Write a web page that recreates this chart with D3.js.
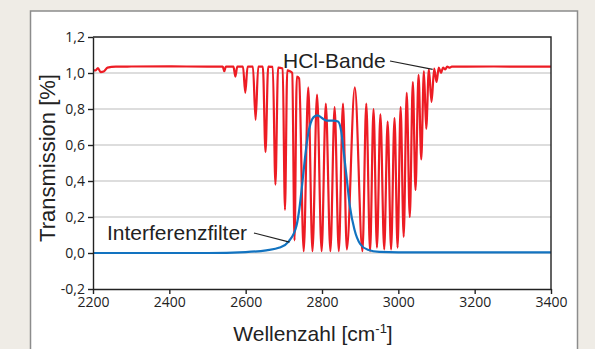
<!DOCTYPE html>
<html>
<head>
<meta charset="utf-8">
<script src="https://cdn.jsdelivr.net/npm/d3@7/dist/d3.min.js"></script>
<style>
  body { margin: 0; background: #efece6; }
  .axis path, .axis line { stroke: #222; stroke-width: 1.4; }
  .axis text { font-family: "Open Sans", sans-serif; font-size: 14px; fill: #222; }
  .title { font-family: "Liberation Sans", Arial, sans-serif; font-size: 21px; fill: #222; }
</style>
</head>
<body>
<div id="chart"></div>
<script>
// HCl absorption band, vertices (wavenumber, transmission)
const hclWavenumber = [
  2200, 2207, 2213, 2220, 2228, 2238, 2260, 2300, 2400, 2500,
  2540, 2544, 2548, 2568, 2573, 2578, 2593, 2599, 2605, 2619,
  2626, 2633, 2645, 2652, 2659, 2671, 2678, 2685, 2697, 2703,
  2709, 2716, 2722, 2728, 2734, 2740, 2752, 2764, 2775, 2787,
  2799, 2810, 2822, 2833, 2844, 2855, 2865, 2886, 2906, 2916,
  2926, 2935, 2944, 2953, 2963, 2972, 2981, 2990, 2998, 3006,
  3014, 3022, 3030, 3038, 3045, 3053, 3060, 3067, 3073, 3080,
  3087, 3094, 3100, 3106, 3112, 3117, 3123, 3128, 3135, 3140,
  3250, 3400
];
const hclTransmission = [
  1.015, 1.015, 1.027, 1.005, 1.008, 1.03, 1.035, 1.036, 1.037, 1.035,
  1.035, 1.01, 1.035, 1.035, 0.98, 1.035, 1.035, 0.89, 1.035, 1.035,
  0.74, 1.035, 1.035, 0.56, 1.035, 1.034, 0.38, 1.03, 1.025, 0.24,
  1.015, 1.01, 1.0, 0.07, 0.98, 0.97, 0.01, 0.92, 0.01, 0.88,
  0.01, 0.83, 0.01, 0.81, 0.01, 0.83, 0.02, 0.92, 0.01, 0.83,
  0.01, 0.80, 0.03, 0.77, 0.02, 0.73, 0.02, 0.75, 0.03, 0.81,
  0.09, 0.89, 0.20, 0.95, 0.35, 0.99, 0.52, 1.01, 0.69, 1.02,
  0.84, 1.025, 0.95, 1.03, 1.0, 1.03, 1.02, 1.035, 1.03, 1.035,
  1.036, 1.035
];

// Interference filter transmission curve
const filterWavenumber = [
  2200, 2500, 2600, 2654, 2689, 2713, 2733, 2741, 2748, 2755,
  2762, 2770, 2778, 2788, 2800, 2812, 2830, 2842, 2850, 2857,
  2865, 2873, 2885, 2900, 2920, 2950, 3000, 3400
];
const filterTransmission = [
  0.0, 0.0, 0.005, 0.015, 0.03, 0.065, 0.15, 0.25, 0.38, 0.52,
  0.64, 0.72, 0.755, 0.765, 0.75, 0.735, 0.735, 0.73, 0.68, 0.56,
  0.41, 0.26, 0.13, 0.05, 0.018, 0.006, 0.004, 0.004
];

const xTicks = [2200, 2400, 2600, 2800, 3000, 3200, 3400];
const yTicks = [-0.2, 0, 0.2, 0.4, 0.6, 0.8, 1.0, 1.2];
const yTickLabels = ['-0,2', '0,0', '0,2', '0,4', '0,6', '0,8', '1,0', '1,2'];

function createChart() {
  const W = 595, H = 349;
  const margin = { top: 37, right: 44, bottom: 60, left: 93 };
  const width = W - margin.left - margin.right;
  const height = H - margin.top - margin.bottom;

  const x = d3.scaleLinear().domain([2200, 3400]).range([0, width]);
  const y = d3.scaleLinear().domain([-0.2, 1.2]).range([height, 0]);

  const root = d3.select('#chart').append('svg')
    .attr('width', W)
    .attr('height', H);

  root.append('rect').attr('width', W).attr('height', H).attr('fill', '#efece6');
  root.append('rect')
    .attr('x', 30.5).attr('y', 11)
    .attr('width', 547).attr('height', 360)
    .attr('fill', '#fff')
    .attr('stroke', '#8c8c8c')
    .attr('stroke-width', 1.5);

  const svg = root.append('g')
    .attr('transform', `translate(${margin.left}, ${margin.top})`);

  // horizontal grid
  svg.append('g').selectAll('line')
    .data(yTicks.slice(1, -1))
    .enter().append('line')
    .attr('x1', 0).attr('x2', width)
    .attr('y1', d => y(d)).attr('y2', d => y(d))
    .attr('stroke', '#d2d2d2')
    .attr('stroke-width', 1.5);

  const hcl = hclWavenumber.map((w, i) => [w, hclTransmission[i]]);
  const filter = filterWavenumber.map((w, i) => [w, filterTransmission[i]]);

  const line = d3.line()
    .x(d => x(d[0]))
    .y(d => y(d[1]))
    .curve(d3.curveMonotoneX);

  svg.append('path')
    .datum(hcl)
    .attr('d', line)
    .attr('fill', 'none')
    .attr('stroke', '#ed1c24')
    .attr('stroke-width', 2.2)
    .attr('stroke-linejoin', 'round');

  svg.append('path')
    .datum(filter)
    .attr('d', line)
    .attr('fill', 'none')
    .attr('stroke', '#1273c0')
    .attr('stroke-width', 2.2);

  // frame
  svg.append('path')
    .attr('d', `M0,0H${width}V${height}`)
    .attr('fill', 'none')
    .attr('stroke', '#222')
    .attr('stroke-width', 1.4);

  svg.append('g')
    .attr('class', 'axis axis--x')
    .attr('transform', `translate(0, ${height})`)
    .call(d3.axisBottom(x).tickValues(xTicks).tickFormat(d3.format('d')).tickSize(5).tickSizeOuter(0).tickPadding(3));

  svg.append('g')
    .attr('class', 'axis axis--y')
    .call(d3.axisLeft(y).tickValues(yTicks).tickFormat((d, i) => yTickLabels[i]).tickSize(5).tickSizeOuter(0).tickPadding(3));

  // axis titles
  const xt = root.append('text')
    .attr('class', 'title')
    .attr('x', 313).attr('y', 341)
    .attr('text-anchor', 'middle');
  xt.append('tspan').text('Wellenzahl [cm');
  xt.append('tspan').attr('font-size', '13px').attr('dy', -8).text('-1');
  xt.append('tspan').attr('dy', 8).text(']');

  root.append('text')
    .attr('class', 'title')
    .style('font-size', '22px')
    .attr('transform', `translate(55, 158) rotate(-90)`)
    .attr('text-anchor', 'middle')
    .text('Transmission [%]');

  // annotations
  svg.append('text')
    .attr('class', 'title')
    .attr('x', 283 - margin.left).attr('y', 68 - margin.top)
    .text('HCl-Bande');
  svg.append('line')
    .attr('x1', 390 - margin.left).attr('y1', 61 - margin.top)
    .attr('x2', x(3090)).attr('y2', y(1.02))
    .attr('stroke', '#222').attr('stroke-width', 1.2);

  svg.append('text')
    .attr('class', 'title')
    .attr('x', 107 - margin.left).attr('y', 240 - margin.top)
    .text('Interferenzfilter');
  svg.append('line')
    .attr('x1', 254 - margin.left).attr('y1', 233 - margin.top)
    .attr('x2', x(2715)).attr('y2', y(0.06))
    .attr('stroke', '#222').attr('stroke-width', 1.2);
}

createChart();
</script>
</body>
</html>
